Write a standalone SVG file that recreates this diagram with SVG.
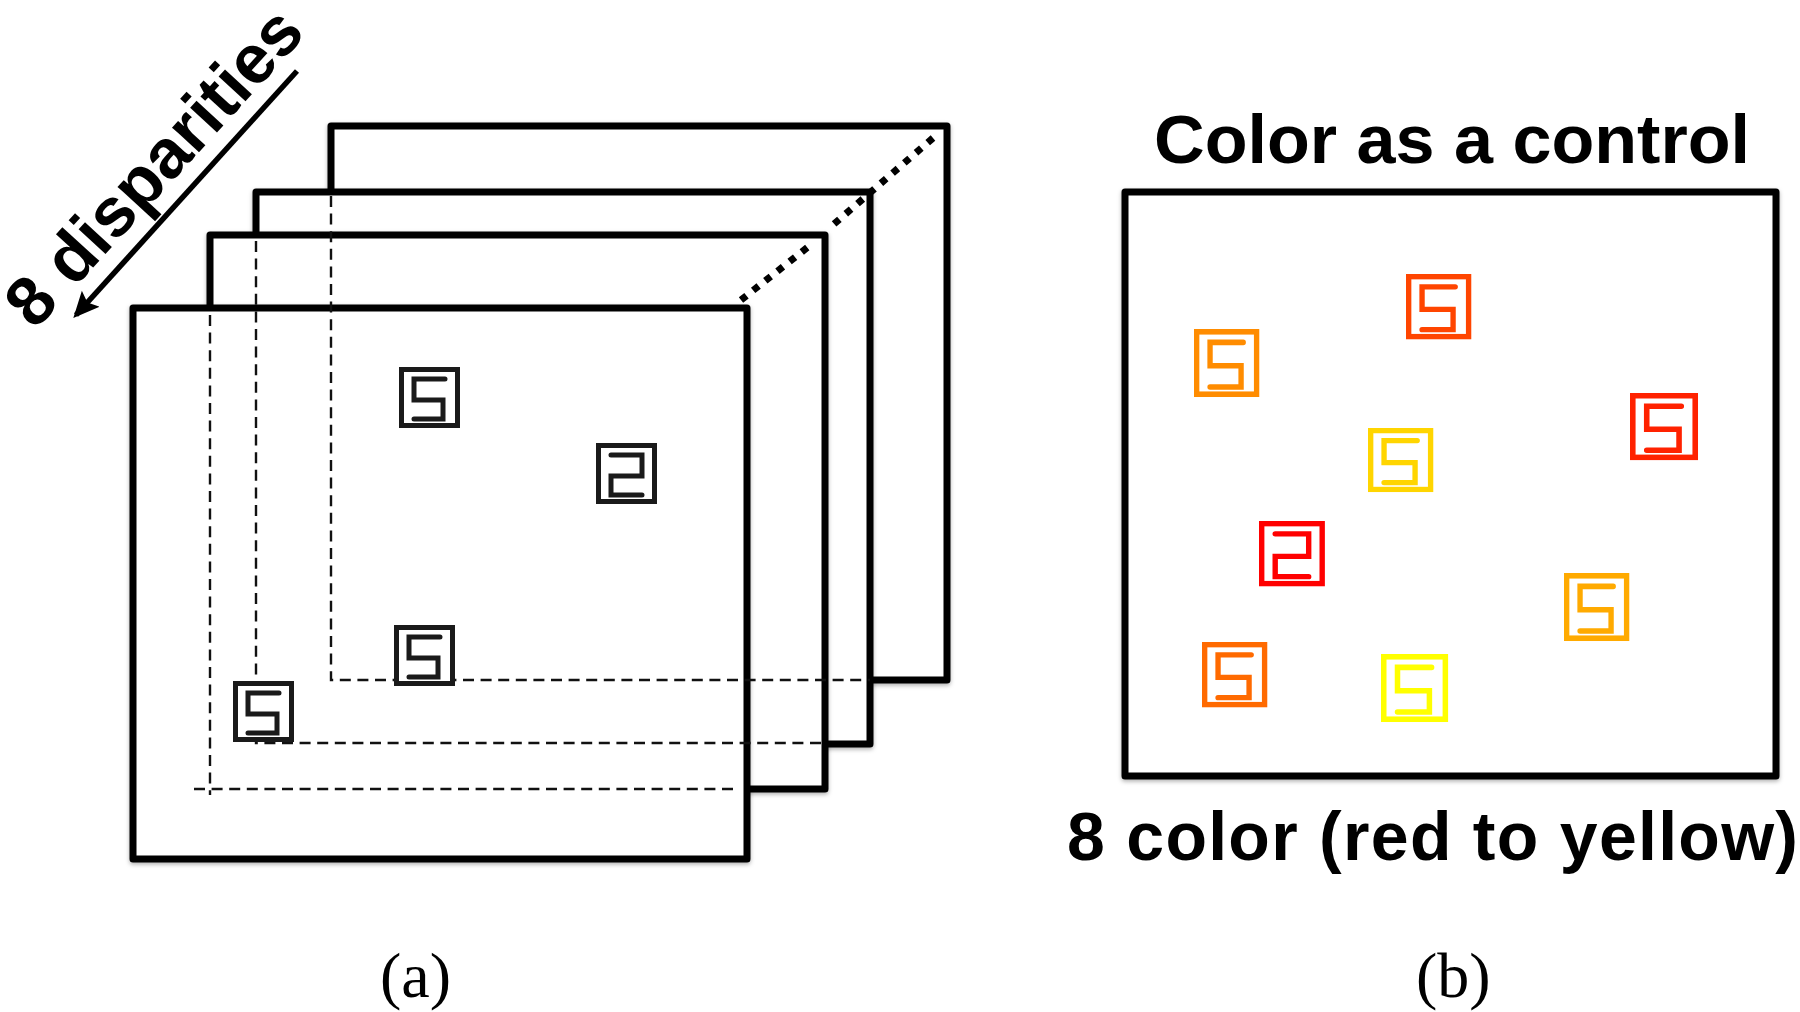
<svg xmlns="http://www.w3.org/2000/svg" width="1800" height="1012" viewBox="0 0 1800 1012">
<style>
.f{fill:#fff;stroke:#000;stroke-width:7;stroke-linejoin:round;filter:url(#sh)}
.d{fill:none;stroke:#111;stroke-width:2.4;stroke-dasharray:11 6.6}
.o{fill:none;stroke:#000;stroke-width:7;stroke-dasharray:7 8.5}
.t{font-family:"Liberation Sans",Arial,sans-serif;font-weight:700;font-size:68px;fill:#000}
.s{font-family:"Liberation Serif","Times New Roman",serif;font-size:64px;fill:#000}
.b{fill:#fff;stroke-width:5}
.p{fill:none;stroke-width:5;stroke-linecap:round}
</style>
<defs>
<filter id="sh" x="-5%" y="-5%" width="110%" height="110%"><feDropShadow dx="0" dy="2" stdDeviation="2" flood-color="#000" flood-opacity=".3"/></filter>
<g id="five"><rect class="b" x="2.5" y="2.5" width="56" height="56"/><path class="p" d="M46 12H15V33H44V52H15"/></g>
<g id="two"><rect class="b" x="2.5" y="2.5" width="56" height="56"/><path class="p" d="M15 12H46V33H15V52H46"/></g>
<marker id="ah" markerUnits="userSpaceOnUse" markerWidth="32" markerHeight="26" refX="22" refY="12" orient="auto"><path d="M0 0L26 12L0 24L5 12Z" fill="#000"/></marker>
</defs>
<g id="frame-back"><rect class="f" x="331" y="126" width="616" height="554"/></g>
<g id="frame-3"><rect class="f" x="256" y="192" width="614" height="552"/></g>
<g id="frame-2"><rect class="f" x="210" y="235" width="615" height="554"/></g>
<g id="frame-front"><rect class="f" x="133" y="308" width="614" height="551"/></g>
<g id="connectors">
<path class="d" d="M331 196V680H870"/>
<path class="d" d="M256 241V743H825"/>
<path class="d" d="M210 315V795M194 789H735"/>
<path class="o" d="M741 300L813 243"/>
<path class="o" d="M933 138L834 224"/>
<path d="M297 71L76 315" fill="none" stroke="#000" stroke-width="5.5" marker-end="url(#ah)"/>
</g>
<g id="stim-1" stroke="#1a1a1a"><use href="#five" x="399" y="367"/></g>
<g id="stim-2" stroke="#1a1a1a"><use href="#two" x="596" y="443"/></g>
<g id="stim-3" stroke="#1a1a1a"><use href="#five" x="394" y="625"/></g>
<g id="stim-4" stroke="#1a1a1a"><use href="#five" x="233" y="681"/></g>
<text class="t" x="1154" y="163" textLength="596" lengthAdjust="spacingAndGlyphs">Color as a control</text>
<g id="frame-b"><rect class="f" x="1125" y="192" width="651" height="584"/></g>
<g id="c1" stroke="#ff8c00"><use href="#five" transform="translate(1194 329) scale(1.07 1.115)"/></g>
<g id="c2" stroke="#ff4500"><use href="#five" transform="translate(1406 274) scale(1.07)"/></g>
<g id="c3" stroke="#ffd500"><use href="#five" transform="translate(1368 428) scale(1.07 1.05)"/></g>
<g id="c4" stroke="#ff0000"><use href="#two" transform="translate(1259 521) scale(1.08 1.07)"/></g>
<g id="c5" stroke="#ff6a00"><use href="#five" transform="translate(1202 642) scale(1.07)"/></g>
<g id="c6" stroke="#ffff00"><use href="#five" transform="translate(1381 654) scale(1.1 1.115)"/></g>
<g id="c7" stroke="#ff2200"><use href="#five" transform="translate(1630 393) scale(1.115 1.1)"/></g>
<g id="c8" stroke="#ffaa00"><use href="#five" transform="translate(1564 573) scale(1.07 1.115)"/></g>
<text class="t" x="1067" y="860" textLength="731">8 color (red to yellow)</text>
<text class="t" transform="translate(35 331) rotate(-47.5) scale(1.015)">8 disparities</text>
<text class="s" x="380" y="997">(a)</text>
<text class="s" x="1416" y="997">(b)</text>
</svg>
